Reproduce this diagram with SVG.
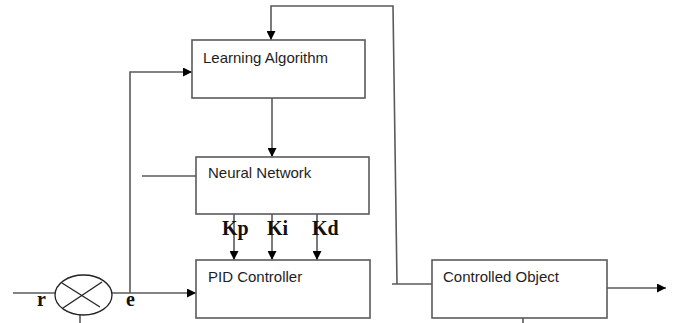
<svg xmlns="http://www.w3.org/2000/svg" width="673" height="323" viewBox="0 0 673 323">
<style>
.box{fill:#fff;stroke:#5a5a5a;stroke-width:1.6}
.ln{fill:none;stroke:#5a5a5a;stroke-width:1.6}
.lbl{font-family:"Liberation Sans",Arial,sans-serif;font-size:15px;fill:#1e1e1e}
.sym{font-family:"Liberation Serif","Times New Roman",serif;font-size:20px;font-weight:bold;fill:#111}
</style>
<defs>
<marker id="arr" viewBox="0 0 10 10" refX="10" refY="5" markerWidth="9" markerHeight="9" markerUnits="userSpaceOnUse" orient="auto">
<path d="M0,0 L10,5 L0,10 Z" fill="#000"/>
</marker>
</defs>
<rect width="673" height="323" fill="#fff"/>
<g id="connectors">
<path class="ln" d="M397,284 L393,6 L271,6 L271,40" marker-end="url(#arr)"/>
<path class="ln" d="M130,293 L130,72 L192,72" marker-end="url(#arr)"/>
<path class="ln" d="M272,98 L272,157" marker-end="url(#arr)"/>
<path class="ln" d="M142,176 L196,176"/>
<path class="ln" d="M234,214 L234,260" marker-end="url(#arr)"/>
<path class="ln" d="M272,214 L272,260" marker-end="url(#arr)"/>
<path class="ln" d="M317,214 L317,260" marker-end="url(#arr)"/>
<path class="ln" d="M13,293 L55,293"/>
<path class="ln" d="M112,293 L196,293" marker-end="url(#arr)"/>
<path class="ln" d="M80,315 L80,323"/>
<path class="ln" d="M392,284 L432,284"/>
<path class="ln" d="M607,288 L666,288" marker-end="url(#arr)"/>
<path class="ln" d="M523,318 L523,323"/>
</g>
<g id="learning-algorithm">
<rect class="box" x="192" y="40" width="173" height="58"/>
<text class="lbl" x="203" y="63">Learning Algorithm</text>
</g>
<g id="neural-network">
<rect class="box" x="196" y="157" width="173" height="57"/>
<text class="lbl" x="208" y="178">Neural Network</text>
</g>
<g id="pid-controller">
<rect class="box" x="196" y="260" width="174" height="58"/>
<text class="lbl" x="208" y="282">PID Controller</text>
</g>
<g id="controlled-object">
<rect class="box" x="432" y="260" width="175" height="58"/>
<text class="lbl" x="443" y="282">Controlled Object</text>
</g>
<g id="comparator">
<ellipse cx="83.5" cy="295" rx="28.5" ry="20" fill="#fff" stroke="#222" stroke-width="1.3"/>
<line x1="62" y1="283" x2="100" y2="307" stroke="#222" stroke-width="1.3"/>
<line x1="102" y1="282" x2="63" y2="308" stroke="#222" stroke-width="1.3"/>
</g>
<g id="labels">
<text class="sym" x="222" y="235">Kp</text>
<text class="sym" x="267" y="235">Ki</text>
<text class="sym" x="312" y="235">Kd</text>
<text class="sym" x="37" y="306">r</text>
<text class="sym" x="126" y="306">e</text>
</g>
</svg>
